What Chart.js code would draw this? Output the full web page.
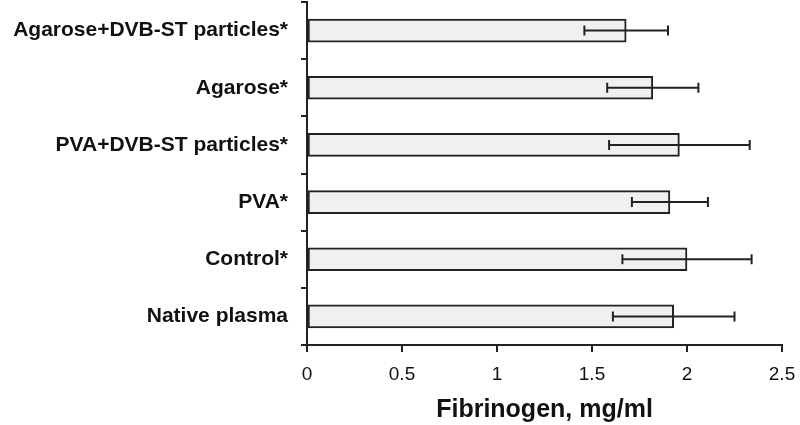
<!DOCTYPE html>
<html>
<head>
    <title>Fibrinogen</title>
    <script src="https://cdn.jsdelivr.net/npm/chart.js@4.4.0/dist/chart.umd.min.js"></script>
    <style>
        html, body { margin: 0; padding: 0; background: #fff; }
        .chart-container { width: 800px; height: 425px; position: relative; }
    </style>
</head>
<body>
    <div class="chart-container">
        <canvas id="myChart" width="800" height="425"></canvas>
    </div>

    <script>
        const categories = ['Agarose+DVB-ST particles*', 'Agarose*', 'PVA+DVB-ST particles*', 'PVA*', 'Control*', 'Native plasma'];
        const means = [1.68, 1.82, 1.96, 1.91, 2.00, 1.93];
        const errors = [0.22, 0.24, 0.37, 0.20, 0.34, 0.32];
        const xTicks = [0, 0.5, 1, 1.5, 2, 2.5];

        const ink = '#222';

        // draws the +/- error whiskers from the scales
        const errorBars = {
            id: 'errorBars',
            afterDatasetsDraw(chart) {
                const ctx = chart.ctx;
                const xs = chart.scales.x, ys = chart.scales.y;
                ctx.save();
                ctx.strokeStyle = ink;
                ctx.lineWidth = 2;
                means.forEach((m, i) => {
                    const y = ys.getPixelForValue(i);
                    const x1 = xs.getPixelForValue(m - errors[i]);
                    const x2 = xs.getPixelForValue(m + errors[i]);
                    ctx.beginPath();
                    ctx.moveTo(x1, y); ctx.lineTo(x2, y);
                    ctx.moveTo(x1, y - 5); ctx.lineTo(x1, y + 5);
                    ctx.moveTo(x2, y - 5); ctx.lineTo(x2, y + 5);
                    ctx.stroke();
                });
                ctx.restore();
            }
        };

        new Chart(document.getElementById('myChart'), {
            type: 'bar',
            data: {
                labels: categories,
                datasets: [{
                    data: means,
                    backgroundColor: '#f0f0f0',
                    borderColor: ink,
                    borderWidth: 2,
                    borderSkipped: false,
                    barThickness: 23
                }]
            },
            options: {
                indexAxis: 'y',
                responsive: false,
                animation: false,
                layout: { padding: { top: 2, right: 18, left: 0, bottom: 0 } },
                plugins: {
                    legend: { display: false },
                    tooltip: { enabled: false }
                },
                scales: {
                    x: {
                        min: 0,
                        max: 2.5,
                        afterBuildTicks: (axis) => { axis.ticks = xTicks.map(v => ({ value: v })); },
                        grid: { drawOnChartArea: false, drawTicks: true, tickLength: 7, color: ink, lineWidth: 2 },
                        border: { display: true, color: ink, width: 2 },
                        ticks: {
                            color: '#111',
                            padding: 11,
                            callback: (v) => String(v),
                            font: { family: 'Liberation Sans, Arial, sans-serif', size: 19 }
                        },
                        title: {
                            display: true,
                            text: 'Fibrinogen, mg/ml',
                            color: '#111',
                            padding: { top: 2, bottom: 0 },
                            font: { family: 'Liberation Sans, Arial, sans-serif', size: 25, weight: 'bold' }
                        },
                        afterFit: (axis) => {
                            axis.height = 80;
                            axis.paddingLeft = 0;
                            axis.paddingRight = 0;
                        }
                    },
                    y: {
                        grid: { offset: true, drawOnChartArea: false, drawTicks: true, tickLength: 6, color: ink, lineWidth: 2 },
                        border: { display: true, color: ink, width: 2 },
                        ticks: { color: '#111', padding: 13, font: { family: 'Liberation Sans, Arial, sans-serif', size: 21, weight: 'bold' } },
                        afterFit: (axis) => {
                            axis.width = 307;
                            axis.paddingTop = 0;
                            axis.paddingBottom = 0;
                        }
                    }
                }
            },
            plugins: [errorBars]
        });
    </script>
</body>
</html>
